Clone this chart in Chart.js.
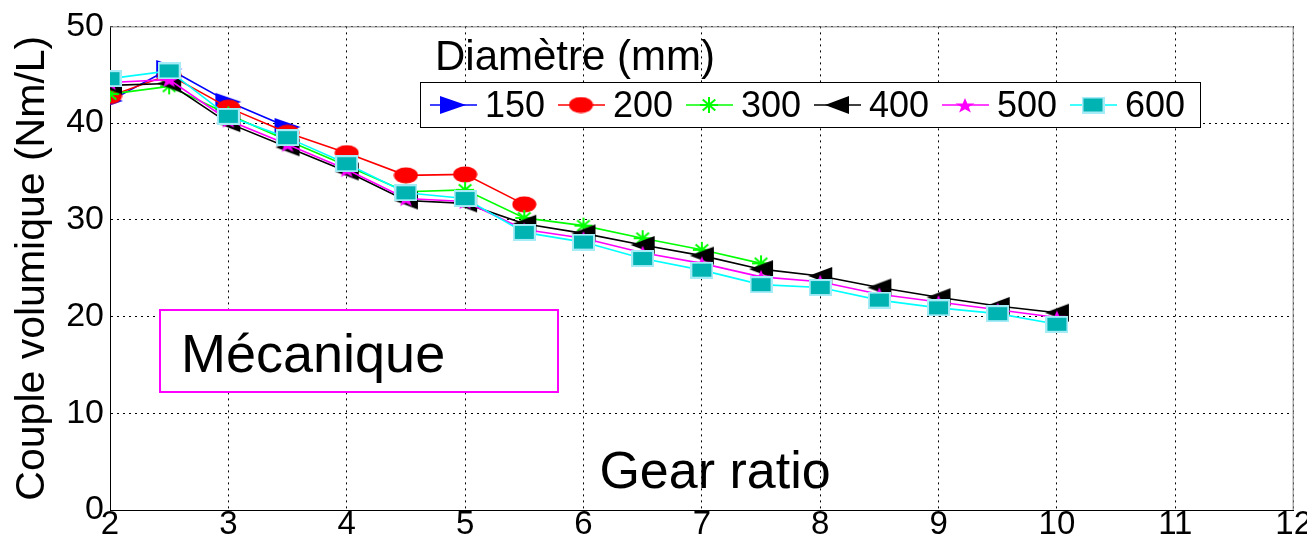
<!DOCTYPE html>
<html lang="fr">
<head>
  <meta charset="UTF-8">
  <title>Couple volumique - Mécanique</title>
  <script src="https://cdn.jsdelivr.net/npm/chart.js"></script>
  <style>
    * { margin: 0; padding: 0; box-sizing: border-box; }
    body { background: #fff; width: 1307px; height: 538px; overflow: hidden; }
  </style>
</head>
<body>
  <canvas id="torqueChart" width="1307" height="538"></canvas>

  <script>
    // rapport de réduction (axe x)
    const gearRatio = [2, 2.5, 3, 3.5, 4, 4.5, 5, 5.5, 6, 6.5, 7, 7.5, 8, 8.5, 9, 9.5, 10];
    const diameters = ['150', '200', '300', '400', '500', '600'];

    // couple volumique (Nm/L) par diamètre
    const couple150 = [42.3, 45.6, 42.2, 39.6];
    const couple200 = [42.8, 45.0, 41.6, 39.0, 36.9, 34.6, 34.7, 31.6];
    const couple300 = [43.0, 43.8, 40.9, 38.2, 35.6, 32.9, 33.1, 30.2, 29.4, 28.1, 26.9, 25.5];
    const couple400 = [43.9, 44.1, 40.0, 37.5, 35.0, 32.0, 31.7, 29.6, 28.6, 27.4, 26.3, 24.9, 24.2, 23.0, 22.0, 21.1, 20.4];
    const couple500 = [44.2, 44.5, 40.3, 37.8, 35.2, 32.2, 31.9, 29.0, 28.1, 26.6, 25.5, 24.1, 23.6, 22.3, 21.5, 20.7, 19.9];
    const couple600 = [44.6, 45.4, 40.7, 38.5, 35.8, 32.8, 32.2, 28.7, 27.7, 26.0, 24.8, 23.3, 23.0, 21.7, 20.9, 20.3, 19.2];

    const xTickValues = [2, 3, 4, 5, 6, 7, 8, 9, 10, 11, 12];
    const yTickValues = [0, 10, 20, 30, 40, 50];

    const FONT = '"Liberation Sans", Arial, sans-serif';

    // marqueurs un peu étirés en largeur, comme sur la figure d'origine
    function makeMarker(shape, w, h, fill, stroke) {
      const c = document.createElement('canvas');
      c.width = w;
      c.height = h;
      const g = c.getContext('2d');
      g.fillStyle = fill;
      g.strokeStyle = stroke || fill;
      g.lineWidth = 2;
      g.beginPath();
      if (shape === 'right') {
        g.moveTo(1, 1); g.lineTo(w - 1, h / 2); g.lineTo(1, h - 1); g.closePath(); g.fill();
      } else if (shape === 'left') {
        g.moveTo(w - 1, 1); g.lineTo(1, h / 2); g.lineTo(w - 1, h - 1); g.closePath(); g.fill();
      } else if (shape === 'ellipse') {
        g.ellipse(w / 2, h / 2, w / 2 - 0.5, h / 2 - 0.5, 0, 0, Math.PI * 2); g.fill();
      } else if (shape === 'asterisk') {
        const cx = w / 2, cy = h / 2, rx = w / 2 - 1, ry = h / 2 - 1;
        g.moveTo(cx - rx, cy); g.lineTo(cx + rx, cy);
        g.moveTo(cx, cy - ry); g.lineTo(cx, cy + ry);
        g.moveTo(cx - rx * 0.7, cy - ry * 0.7); g.lineTo(cx + rx * 0.7, cy + ry * 0.7);
        g.moveTo(cx - rx * 0.7, cy + ry * 0.7); g.lineTo(cx + rx * 0.7, cy - ry * 0.7);
        g.stroke();
      } else if (shape === 'pentagram') {
        const cx = w / 2, cy = h / 2 + 1;
        for (let k = 0; k < 10; k++) {
          const ang = -Math.PI / 2 + k * Math.PI / 5;
          const r = k % 2 === 0 ? 1 : 0.4;
          const px = cx + Math.cos(ang) * r * (w / 2 - 1);
          const py = cy + Math.sin(ang) * r * (h / 2 - 1);
          if (k === 0) g.moveTo(px, py); else g.lineTo(px, py);
        }
        g.closePath(); g.fill();
      } else if (shape === 'square') {
        g.fillRect(1, 1, w - 2, h - 2);
        g.strokeRect(1, 1, w - 2, h - 2);
      }
      return c;
    }

    const series = [
      { values: couple150, color: '#0000ff', marker: makeMarker('right', 28, 20, '#0000ff') },
      { values: couple200, color: '#ff0000', marker: makeMarker('ellipse', 25, 17, '#ff0000') },
      { values: couple300, color: '#00ff00', marker: makeMarker('asterisk', 20, 18, '#00ff00') },
      { values: couple400, color: '#000000', marker: makeMarker('left', 26, 20, '#000000') },
      { values: couple500, color: '#ff00ff', marker: makeMarker('pentagram', 22, 18, '#ff00ff') },
      { values: couple600, color: '#00ffff', marker: makeMarker('square', 23, 17, '#00b3b3', '#a6ecf7') }
    ];

    const datasets = series.map((s, i) => ({
      label: diameters[i],
      data: s.values.map((v, j) => ({ x: gearRatio[j], y: v })),
      borderColor: s.color,
      backgroundColor: s.color,
      borderWidth: 1.6,
      pointStyle: s.marker,
      pointRadius: 10,
      pointHoverRadius: 10,
      tension: 0,
      fill: false,
      order: series.length - 1 - i   // 600 dessiné en dernier, comme sous Matlab
    }));

    const overlay = {
      id: 'overlay',
      afterDatasetsDraw(chart) {
        const ctx = chart.ctx;
        const a = chart.chartArea;
        ctx.save();

        // cadre haut / droite
        ctx.strokeStyle = '#808080';
        ctx.lineWidth = 1;
        ctx.beginPath();
        ctx.moveTo(a.left, a.top + 0.5);
        ctx.lineTo(a.right - 0.5, a.top + 0.5);
        ctx.lineTo(a.right - 0.5, a.bottom);
        ctx.stroke();

        // "Gear ratio" posé dans la zone de tracé
        ctx.fillStyle = '#000';
        ctx.font = '52px ' + FONT;
        ctx.textAlign = 'center';
        ctx.textBaseline = 'alphabetic';
        ctx.fillText('Gear ratio', 715, 488);

        // encadré Mécanique
        ctx.fillStyle = '#fff';
        ctx.fillRect(160, 310, 398, 82);
        ctx.strokeStyle = '#ff00ff';
        ctx.lineWidth = 2;
        ctx.strokeRect(160, 310, 398, 82);
        ctx.fillStyle = '#000';
        ctx.font = '54px ' + FONT;
        ctx.textAlign = 'left';
        ctx.fillText('Mécanique', 181, 372);

        // légende
        ctx.font = '42px ' + FONT;
        ctx.fillText('Diamètre (mm)', 435, 70);
        ctx.fillStyle = '#fff';
        ctx.fillRect(420, 82, 780, 45);
        ctx.strokeStyle = '#000';
        ctx.lineWidth = 1;
        ctx.strokeRect(420.5, 82.5, 780, 45);
        ctx.font = '36px ' + FONT;
        ctx.textBaseline = 'middle';
        const ly = 105;
        chart.data.datasets.forEach((ds, i) => {
          const x0 = 430 + i * 128;
          ctx.strokeStyle = ds.borderColor;
          ctx.lineWidth = 1.6;
          ctx.beginPath();
          ctx.moveTo(x0, ly);
          ctx.lineTo(x0 + 47, ly);
          ctx.stroke();
          const m = ds.pointStyle;
          ctx.drawImage(m, x0 + 23 - m.width / 2, ly - m.height / 2);
          ctx.fillStyle = '#000';
          ctx.fillText(ds.label, x0 + 55, ly + 2);
        });
        ctx.restore();
      }
    };

    const gridStyle = {
      color: '#000',
      lineWidth: 1,
      drawTicks: false
    };

    new Chart(document.getElementById('torqueChart'), {
      type: 'line',
      data: { datasets: datasets },
      plugins: [overlay],
      options: {
        responsive: false,
        animation: false,
        events: [],
        layout: { padding: { top: 18, right: 13, left: 0, bottom: 0 } },
        plugins: {
          legend: { display: false },
          tooltip: { enabled: false }
        },
        scales: {
          x: {
            type: 'linear',
            min: xTickValues[0],
            max: xTickValues[xTickValues.length - 1],
            afterBuildTicks: s => { s.ticks = xTickValues.map(v => ({ value: v })); },
            afterFit: s => { s.height = 28; },
            grid: gridStyle,
            border: { color: '#000', width: 1, dash: [2, 4] },
            ticks: { color: '#000', padding: -5, font: { family: FONT, size: 33 } }
          },
          y: {
            min: yTickValues[0],
            max: yTickValues[yTickValues.length - 1],
            afterBuildTicks: s => { s.ticks = yTickValues.map(v => ({ value: v })); },
            afterFit: s => { s.width = 110; },
            grid: gridStyle,
            border: { color: '#000', width: 1, dash: [2, 4] },
            ticks: { color: '#000', padding: 6, font: { family: FONT, size: 34 } },
            title: {
              display: true,
              text: 'Couple volumique (Nm/L)',
              color: '#000',
              padding: { top: 8, bottom: 0 },
              font: { family: FONT, size: 41 }
            }
          }
        }
      }
    });
  </script>
</body>
</html>
